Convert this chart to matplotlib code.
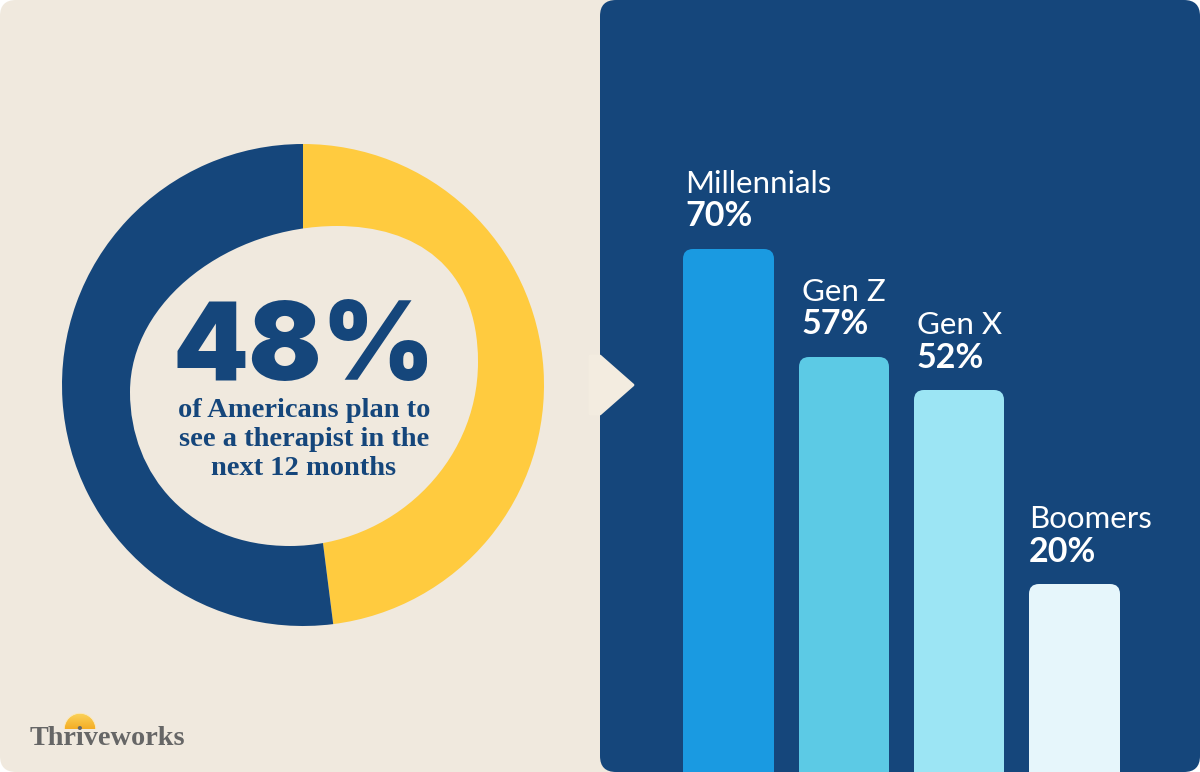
import numpy as np
import matplotlib
matplotlib.use("Agg")
import matplotlib.pyplot as plt
from matplotlib.colors import LinearSegmentedColormap
from matplotlib.patches import FancyBboxPatch, PathPatch, Polygon, Wedge
from matplotlib.path import Path

# Data
donut_values = [48, 52]
donut_colors = ["#FFCB3F", "#15467B"]
headline = "48%"
subtitle = ["of Americans plan to", "see a therapist in the", "next 12 months"]
generations = ["Millennials", "Gen Z", "Gen X", "Boomers"]
percent_labels = ["70%", "57%", "52%", "20%"]
# Drawn heights (the source bars are not to scale with their labels)
bar_heights = [523, 415, 382, 188]
bar_colors = ["#1A9AE1", "#5CCAE5", "#9CE5F4", "#E6F6FB"]

BG = "#F0E9DE"
NAVY = "#15467B"
SANS = ["Lato", "DejaVu Sans"]
HEAVY = ["Inter", "DejaVu Sans"]
SERIF = ["Liberation Serif", "DejaVu Serif"]

fig = plt.figure(figsize=(12, 7.72), dpi=100, facecolor="white")
ax = fig.add_axes([0, 0, 1, 1])
ax.set_xlim(0, 1200)
ax.set_ylim(772, 0)
ax.axis("off")

# Rounded card on white, with the beige half behind the navy panel
ax.add_patch(FancyBboxPatch((0, 0), 640, 772, boxstyle="round,pad=0,rounding_size=16",
                            fc=BG, ec="none", zorder=0))
ax.add_patch(FancyBboxPatch((600, 0), 600, 772, boxstyle="round,pad=0,rounding_size=16",
                            fc=NAVY, ec="none", zorder=1))
# Arrow notch
ax.add_patch(Polygon([(590, 356), (600, 356), (633, 385), (600, 414), (590, 414)],
                     closed=True, fc="#F3ECE0", ec="#F3ECE0", lw=2, joinstyle="round", zorder=2))

# Bars
bar_left = [683, 799, 914, 1029]
bar_width = [91, 90, 90, 91]
label_left = [685, 802, 917, 1029]
for g, p, h, c, x, w, lx in zip(generations, percent_labels, bar_heights, bar_colors,
                                bar_left, bar_width, label_left):
    top = 772 - h
    ax.add_patch(FancyBboxPatch((x, top), w, h + 40, boxstyle="round,pad=0,rounding_size=10",
                                fc=c, ec="none", zorder=3))
    ax.text(lx, top - 56, g, color="white", fontsize=22.5, family=SANS, va="baseline", ha="left", zorder=4)
    ax.text(lx, top - 22.5, p, color="white", fontsize=24.5, family=SANS, weight="bold", va="baseline", ha="left", zorder=4)

# Donut
dax = fig.add_axes([62 / 1200, 1 - 626 / 772, 482 / 1200, 482 / 772])
dax.pie(donut_values, colors=donut_colors, startangle=90, counterclock=False, radius=1,
        wedgeprops=dict(linewidth=0))
dax.set_xlim(-1, 1)
dax.set_ylim(-1, 1)
dax.set_zorder(2)

# Organic hole
over = fig.add_axes([0, 0, 1, 1])
over.set_xlim(0, 1200)
over.set_ylim(772, 0)
over.axis("off")
over.patch.set_alpha(0)
over.set_zorder(3)
verts = [(337, 226),
         (415, 226), (478, 266), (478, 362),
         (478, 465), (390, 546), (290, 546),
         (190, 546), (130, 475), (130, 392),
         (130, 300), (230, 226), (337, 226)]
codes = [Path.MOVETO] + [Path.CURVE4] * 12
over.add_patch(PathPatch(Path(verts, codes), fc=BG, ec="none"))

over.text(304, 380, headline, color=NAVY, fontsize=78, family=HEAVY, weight="black", ha="center", va="baseline")
for y, line in zip([417, 446, 475], subtitle):
    over.text(304, y, line, color=NAVY, fontsize=20.5, family=SERIF, weight="bold", ha="center", va="baseline")

# Logo: sun with gradient, wordmark on top
sun_cmap = LinearSegmentedColormap.from_list("sun", ["#FBD35A", "#F3A81F"])
sun = over.imshow(np.linspace(0, 1, 64).reshape(-1, 1), cmap=sun_cmap, extent=(64, 96, 731, 713),
                  aspect="auto", zorder=2)
over.set_xlim(0, 1200)
over.set_ylim(772, 0)
clip = Wedge((80, 729), 15.5, 180, 360, fc="none", ec="none", transform=over.transData)
over.add_patch(clip)
sun.set_clip_path(clip)
over.add_patch(Wedge((80, 729), 16.2, 180, 360, width=0.9, fc="#FBE8B8", ec="none", zorder=2))
over.text(107.5, 745, "Thriveworks", color="#666666", fontsize=20.3, family=SERIF, weight="bold",
          ha="center", va="baseline", zorder=3)

fig.savefig("out.png", dpi=100, facecolor="white")
